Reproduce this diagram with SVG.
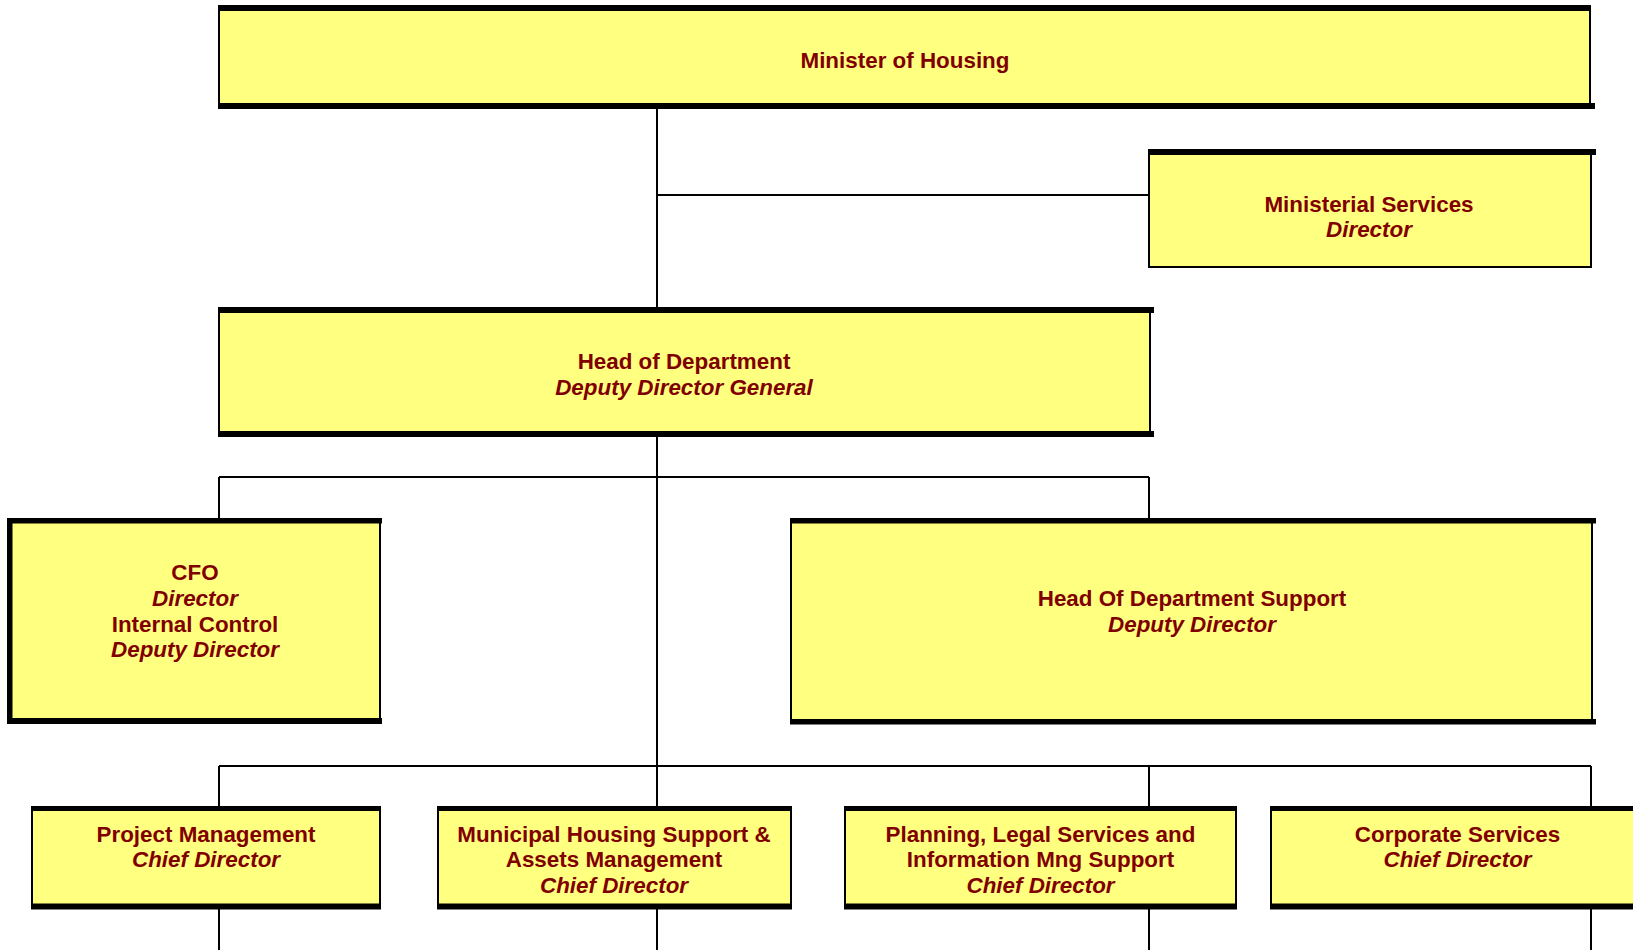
<svg xmlns="http://www.w3.org/2000/svg" width="1633" height="950" viewBox="0 0 1633 950">
<style>
.box{fill:#FFFF80;stroke:#000;stroke-width:2}
.bar{fill:#000}
.conn{stroke:#000;stroke-width:2;fill:none}
text{font-family:"Liberation Sans",Arial,sans-serif;font-size:22.4px;font-weight:bold;fill:#800000;text-anchor:middle}
.it{font-style:italic}
</style>
<rect width="1633" height="950" fill="#fff"/>
<g id="connectors">
<path class="conn" d="M657,109 V307 M657,195 H1149 M657,437 V808 M219,477 H1149 M219,477 V520 M1149,477 V520 M219,766 H1591 M219,766 V808 M1149,766 V808 M1591,766 V808 M219,909 V950 M657,909 V950 M1149,909 V950 M1591,909 V950"/>
</g>
<g id="minister">
<rect class="box" x="219" y="8" width="1371" height="98"/>
<rect class="bar" x="218" y="5" width="1373" height="6"/>
<rect class="bar" x="218" y="103" width="1377" height="6"/>
<text x="905" y="67.5">Minister of Housing</text>
</g>
<g id="ministerial-services">
<rect class="box" x="1149" y="152" width="442" height="115"/>
<rect class="bar" x="1148" y="149" width="448" height="6"/>
<text x="1369" y="211.5">Ministerial Services</text>
<text class="it" x="1369" y="237">Director</text>
</g>
<g id="head-of-department">
<rect class="box" x="219" y="310" width="931" height="124"/>
<rect class="bar" x="218" y="307" width="936" height="6"/>
<rect class="bar" x="218" y="431" width="936" height="6"/>
<text x="684" y="368.5">Head of Department</text>
<text class="it" x="684" y="394.5">Deputy Director General</text>
</g>
<g id="cfo">
<rect class="box" x="9" y="520" width="371" height="201"/>
<rect class="bar" x="7" y="518" width="375" height="5.5"/>
<rect class="bar" x="7" y="718" width="375" height="6"/>
<rect class="bar" x="7" y="518" width="5.5" height="206"/>
<text x="195" y="580">CFO</text>
<text class="it" x="195" y="606">Director</text>
<text x="195" y="631.5">Internal Control</text>
<text class="it" x="195" y="657">Deputy Director</text>
</g>
<g id="hod-support">
<rect class="box" x="791" y="521" width="801" height="200"/>
<rect class="bar" x="790" y="518" width="806" height="5.5"/>
<rect class="bar" x="790" y="719" width="806" height="5.5"/>
<text x="1192" y="606">Head Of Department Support</text>
<text class="it" x="1192" y="631.5">Deputy Director</text>
</g>
<g id="project-management">
<rect class="box" x="32" y="808" width="348" height="98"/>
<rect class="bar" x="31" y="806" width="350" height="5"/>
<rect class="bar" x="31" y="903.5" width="350" height="6"/>
<text x="206" y="841.5">Project Management</text>
<text class="it" x="206" y="867">Chief Director</text>
</g>
<g id="municipal-housing">
<rect class="box" x="438" y="808" width="353" height="98"/>
<rect class="bar" x="437" y="806" width="355" height="5"/>
<rect class="bar" x="437" y="903.5" width="355" height="6"/>
<text x="614" y="841.5">Municipal Housing Support &amp;</text>
<text x="614" y="867">Assets Management</text>
<text class="it" x="614" y="892.5">Chief Director</text>
</g>
<g id="planning-legal">
<rect class="box" x="845" y="808" width="391" height="98"/>
<rect class="bar" x="844" y="806" width="393" height="5"/>
<rect class="bar" x="844" y="903.5" width="393" height="6"/>
<text x="1040.5" y="841.5">Planning, Legal Services and</text>
<text x="1040.5" y="867">Information Mng Support</text>
<text class="it" x="1040.5" y="892.5">Chief Director</text>
</g>
<g id="corporate-services">
<rect class="box" x="1271" y="808" width="374" height="98"/>
<rect class="bar" x="1270" y="806" width="376" height="5"/>
<rect class="bar" x="1270" y="903.5" width="376" height="6"/>
<text x="1457.5" y="841.5">Corporate Services</text>
<text class="it" x="1457.5" y="867">Chief Director</text>
</g>
</svg>
